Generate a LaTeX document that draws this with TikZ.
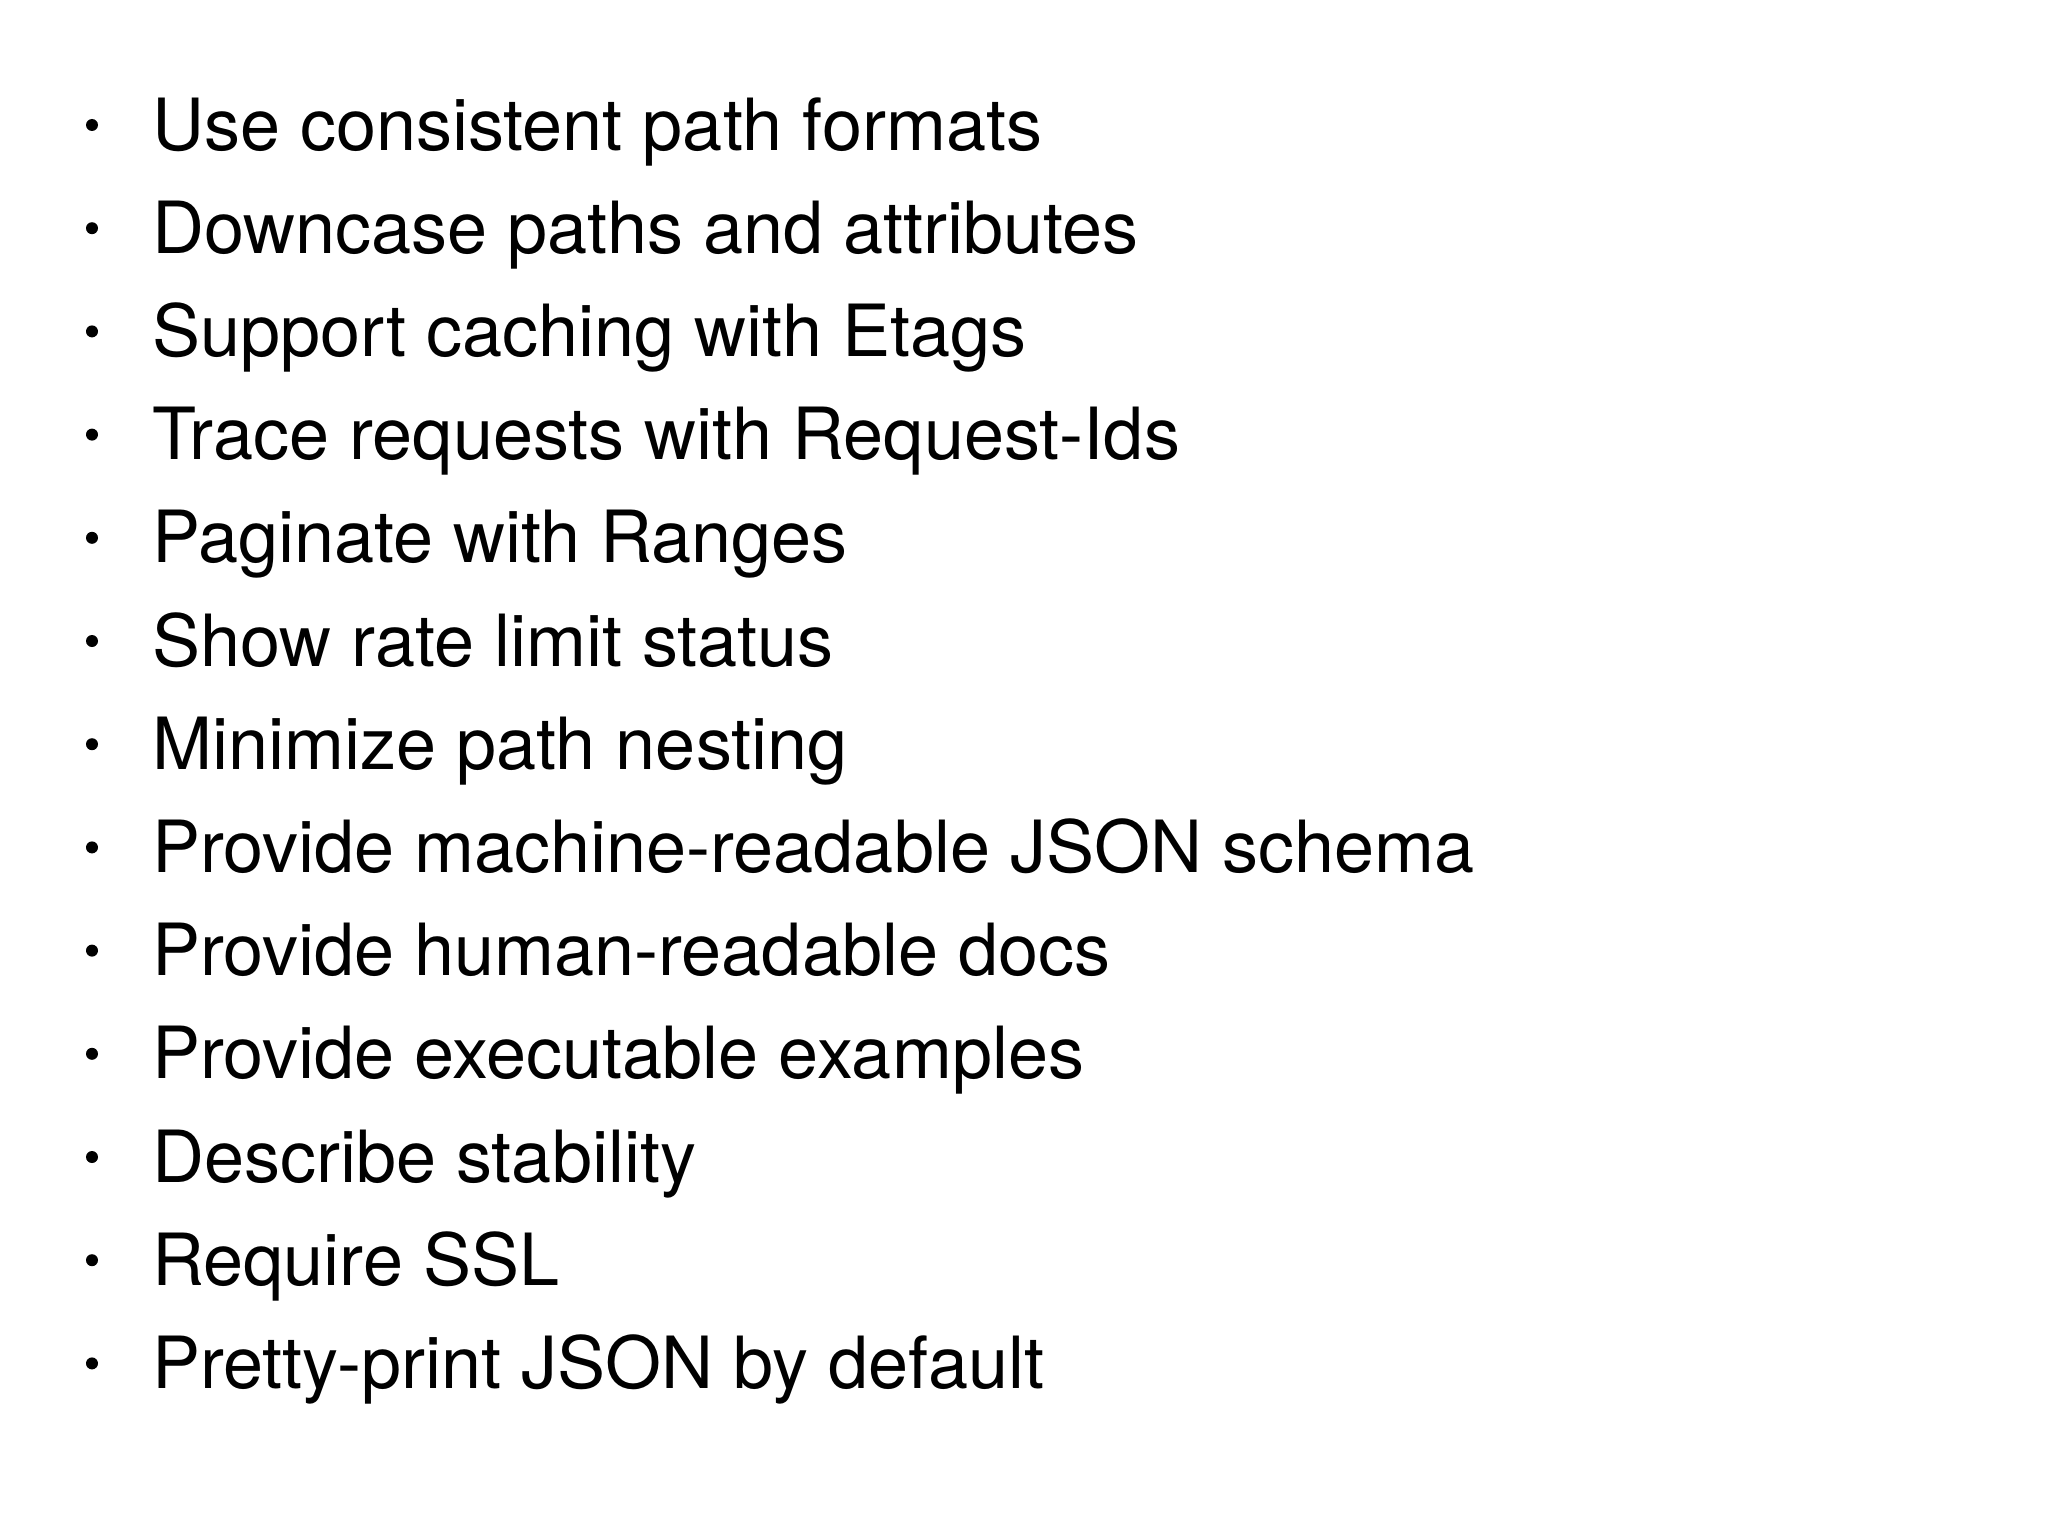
\documentclass[tikz,border=0pt]{standalone}
\usepackage{fontspec}
\setmainfont{TeX Gyre Heros}
\begin{document}
\begin{tikzpicture}[x=1pt,y=1pt,
  item/.style={anchor=base west,inner sep=0pt,font=\fontsize{72}{80}\selectfont},
  dot/.style={circle,fill=black,inner sep=0pt,minimum size=12pt}]
\useasboundingbox[fill=white] (0,0) rectangle (2048,-1536);
\foreach \t [count=\i] in {Use consistent path formats,Downcase paths and attributes,Support caching with Etags,Trace requests with Request-Ids,Paginate with Ranges,Show rate limit status,Minimize path nesting,Provide machine-readable JSON schema,Provide human-readable docs,Provide executable examples,Describe stability,Require SSL,Pretty-print JSON by default}{
  \node[item] (t\i) at (152,{-150-103.2*(\i-1)}) {\t};
  \node[dot] (b\i) at (92,{-150-103.2*(\i-1)+25}) {};
}
\end{tikzpicture}
\end{document}
